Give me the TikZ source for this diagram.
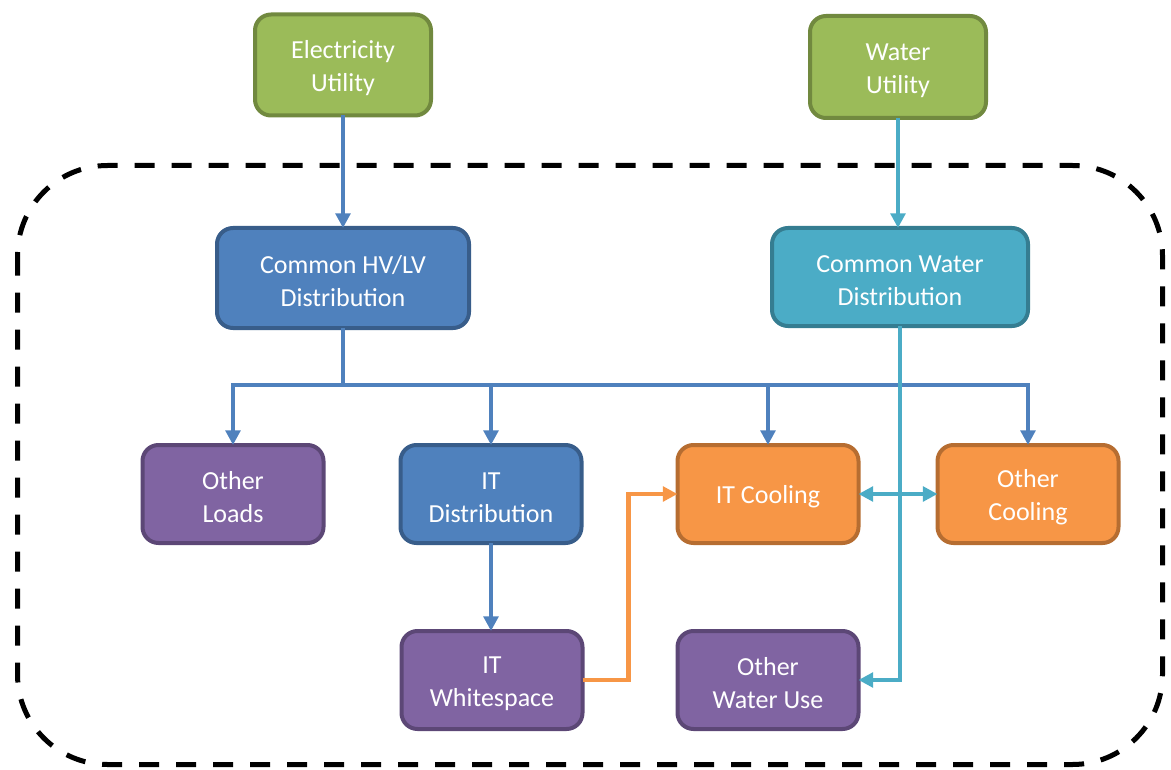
\documentclass[tikz,border=0pt]{standalone}
\usepackage{fontspec}
\setmainfont{Carlito}
\usetikzlibrary{arrows.meta}
\definecolor{grnF}{HTML}{9BBB59}\definecolor{grnD}{HTML}{71893F}
\definecolor{bluF}{HTML}{4F81BD}\definecolor{bluD}{HTML}{385D8A}
\definecolor{tealF}{HTML}{4BACC6}\definecolor{tealD}{HTML}{357D91}
\definecolor{purF}{HTML}{8064A2}\definecolor{purD}{HTML}{5C4776}
\definecolor{orgF}{HTML}{F79646}\definecolor{orgD}{HTML}{B66D31}
% tall strut on the first line pushes the label down a little inside its box
\newcommand\topstrut{\rule{0pt}{18pt}}
\tikzset{
  box/.style={rounded corners=12pt, line width=3pt, text=white, align=center,
    inner sep=0pt, outer sep=0pt,
    font=\fontsize{19.5}{24.75}\selectfont},
  rowbox/.style={box, minimum width=135.75pt, minimum height=73.5pt},
  green/.style={fill=grnF, draw=grnD},
  blue/.style={fill=bluF, draw=bluD},
  teal/.style={fill=tealF, draw=tealD},
  purple/.style={fill=purF, draw=purD},
  orange/.style={fill=orgF, draw=orgD},
  flow/.style={line width=3.2pt, -{Triangle[width=11pt,length=11pt]}},
  eline/.style={flow, draw=bluF},
  wline/.style={flow, draw=tealF},
  oline/.style={flow, draw=orgF},
  boundary/.style={draw=black, line width=3.75pt, dash pattern=on 15pt off 12.75pt, rounded corners=67.5pt}
}
\begin{document}
\begin{tikzpicture}[x=0.75pt, y=-0.75pt]
\useasboundingbox (0,0) rectangle (1171,770);
% facility boundary
\draw[boundary] (17.5,165.5) rectangle (1162.5,764.5);

% utilities
\node[box, green, minimum width=132pt, minimum height=75.75pt] (eu) at (343,65) {\topstrut Electricity\\Utility};
\node[box, green, minimum width=132pt, minimum height=76.5pt] (wu) at (898,67) {\topstrut Water\\Utility};

% common distribution
\node[box, blue, minimum width=189pt, minimum height=75pt] (hv) at (343,278) {\topstrut Common HV/LV\\Distribution};
\node[box, teal, minimum width=192pt, minimum height=73.5pt] (cw) at (900,277) {\topstrut Common Water\\Distribution};

% loads
\node[rowbox, purple] (ol)  at (233,494)  {\topstrut Other\\Loads};
\node[rowbox, blue]   (itd) at (491,494)  {\topstrut IT\\Distribution};
\node[rowbox, orange] (itc) at (768,494)  {\topstrut IT Cooling};
\node[rowbox, orange] (oc)  at (1028,494) {\topstrut Other\\Cooling};
\node[rowbox, purple] (itw) at (492,680)  {\topstrut IT\\Whitespace};
\node[rowbox, purple] (ow)  at (768,680)  {\topstrut Other\\Water Use};

% electricity
\coordinate (bus) at (343,385);
\draw[eline] (eu.south) -- (hv.north);
\draw[eline] (hv.south) -- (bus) -| (ol.north);
\draw[eline] (hv.south) -- (bus) -| (itd.north);
\draw[eline] (hv.south) -- (bus) -| (itc.north);
\draw[eline] (hv.south) -- (bus) -| (oc.north);
\draw[eline] (itd.south) -- (itd.south |- itw.north);

% water
\draw[wline] (wu.south) -- (wu.south |- cw.north);
\draw[wline] (cw.south) |- (ow.east);
\draw[wline, {Triangle[width=11pt,length=11pt]}-{Triangle[width=11pt,length=11pt]}] (itc.east) -- (oc.west);

% heat from whitespace to cooling
\draw[oline] (itw.east) -- ++(46,0) |- (itc.west);
\end{tikzpicture}
\end{document}
